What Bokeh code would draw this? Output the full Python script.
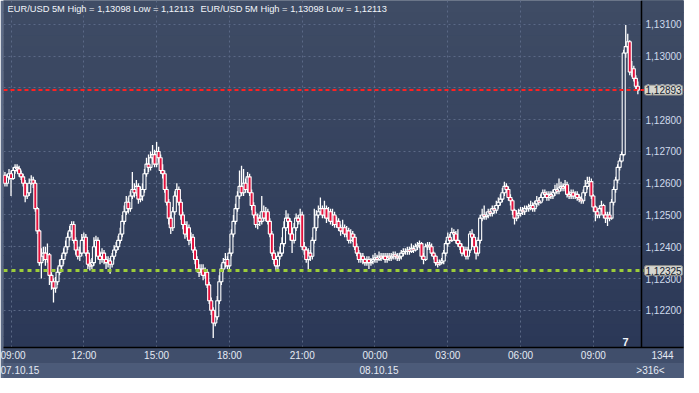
import numpy as np
import pandas as pd
from bokeh.plotting import figure
from bokeh.models import (ColumnDataSource, Range1d, LinearAxis, FixedTicker,
                          CustomJSTickFormatter, Grid, Span, Label, BoxAnnotation)
from bokeh.embed import file_html
from bokeh.resources import INLINE

# ---------------- data (prices in points, 1e-5) ----------------
start_time = "2015-10-07 08:35"
bar_minutes = 5

opens = [
    112600, 112610, 112625, 112600, 112620, 112630, 112615, 112640, 112650, 112645,
    112630, 112620, 112600, 112560, 112570, 112600, 112610, 112600, 112520, 112450,
    112350, 112370, 112380, 112360, 112375, 112310, 112290, 112270, 112290, 112320,
    112340, 112360, 112380, 112400, 112430, 112450, 112470, 112420, 112390, 112370,
    112380, 112420, 112430, 112380, 112345, 112340, 112350, 112400, 112420, 112370,
    112360, 112380, 112360, 112350, 112355, 112345, 112370, 112390, 112400, 112420,
    112440, 112480, 112510, 112540, 112520, 112560, 112580, 112570, 112590, 112550,
    112560, 112580, 112630, 112660, 112650, 112680, 112690, 112660, 112700, 112680,
    112640, 112630, 112580, 112540, 112490, 112460, 112510, 112560, 112580, 112540,
    112500, 112470, 112440, 112460, 112420, 112430, 112390, 112360, 112330, 112320,
    112330, 112310, 112320, 112280, 112230, 112200, 112160, 112180, 112230, 112290,
    112330, 112350, 112360, 112340, 112380, 112440, 112480, 112520, 112560, 112590,
    112570, 112600, 112580, 112620, 112570, 112530, 112500, 112470, 112490, 112480,
    112510, 112490, 112510, 112480, 112440, 112380, 112360, 112340, 112370, 112380,
    112410, 112460, 112490, 112480, 112440, 112420, 112460, 112490, 112480, 112500,
    112400, 112390, 112360, 112380, 112370, 112420, 112460, 112500, 112510, 112520,
    112500, 112520, 112490, 112510, 112480, 112500, 112470, 112480, 112460, 112450,
    112460, 112440, 112450, 112420, 112440, 112430, 112400, 112380, 112360, 112370,
    112360, 112350, 112360, 112350, 112355, 112360, 112365, 112360, 112370, 112365,
    112370, 112360, 112370, 112365, 112370, 112375, 112370, 112365, 112370, 112380,
    112385, 112385, 112390, 112385, 112395, 112390, 112400, 112405, 112410, 112370,
    112360, 112400, 112405, 112400, 112380, 112370, 112350, 112345, 112350, 112355,
    112380, 112410, 112430, 112420, 112445, 112440, 112420, 112410, 112400, 112380,
    112390, 112370, 112390, 112440, 112430, 112400, 112380, 112420, 112490, 112500,
    112495, 112500, 112510, 112505, 112520, 112515, 112530, 112540, 112550, 112570,
    112590, 112580, 112555, 112545, 112515, 112490, 112500, 112505, 112515, 112510,
    112520, 112520, 112525, 112530, 112520, 112535, 112545, 112540, 112555, 112570,
    112565, 112555, 112565, 112560, 112570, 112580, 112575, 112585, 112590, 112585,
    112595, 112565, 112560, 112570, 112560, 112565, 112555, 112550, 112545, 112570,
    112590, 112600, 112605, 112560, 112525, 112510, 112500, 112520, 112530, 112500,
    112490, 112500, 112490, 112540, 112580, 112610, 112650, 112670, 112690, 113010,
    113030, 113045, 112950, 112960, 112930, 112905,
]

highs = [
    112625, 112640, 112635, 112630, 112645, 112640, 112650, 112660, 112660, 112655,
    112640, 112630, 112610, 112590, 112615, 112625, 112620, 112610, 112525, 112455,
    112395, 112400, 112400, 112410, 112380, 112320, 112300, 112305, 112335, 112360,
    112375, 112395, 112420, 112445, 112465, 112480, 112480, 112430, 112400, 112400,
    112440, 112445, 112440, 112390, 112360, 112365, 112430, 112435, 112430, 112385,
    112395, 112390, 112370, 112370, 112365, 112380, 112405, 112415, 112435, 112460,
    112500, 112530, 112560, 112555, 112575, 112635, 112600, 112610, 112600, 112590,
    112600, 112645, 112680, 112690, 112700, 112720, 112705, 112730, 112715, 112690,
    112660, 112640, 112590, 112550, 112500, 112525, 112575, 112600, 112590, 112550,
    112510, 112480, 112480, 112470, 112445, 112440, 112400, 112370, 112345, 112345,
    112345, 112335, 112330, 112290, 112240, 112210, 112200, 112245, 112310, 112345,
    112365, 112380, 112370, 112395, 112455, 112500, 112535, 112575, 112640, 112655,
    112645, 112615, 112635, 112630, 112580, 112540, 112510, 112505, 112500, 112560,
    112530, 112525, 112520, 112490, 112450, 112390, 112370, 112385, 112400, 112430,
    112480, 112515, 112505, 112490, 112450, 112475, 112505, 112500, 112520, 112510,
    112415, 112400, 112395, 112390, 112430, 112520, 112515, 112530, 112555, 112530,
    112545, 112530, 112525, 112520, 112520, 112510, 112495, 112490, 112470, 112485,
    112470, 112465, 112460, 112455, 112450, 112440, 112410, 112390, 112380, 112380,
    112365, 112370, 112370, 112365, 112375, 112380, 112375, 112385, 112380, 112380,
    112380, 112380, 112380, 112380, 112385, 112385, 112380, 112380, 112390, 112395,
    112395, 112400, 112400, 112410, 112405, 112410, 112415, 112420, 112415, 112380,
    112410, 112415, 112415, 112410, 112385, 112375, 112360, 112360, 112365, 112390,
    112420, 112445, 112440, 112460, 112455, 112450, 112455, 112420, 112410, 112400,
    112400, 112400, 112450, 112455, 112440, 112410, 112430, 112500, 112520, 112530,
    112510, 112520, 112520, 112530, 112530, 112545, 112555, 112565, 112585, 112605,
    112600, 112590, 112565, 112550, 112520, 112515, 112520, 112525, 112525, 112530,
    112530, 112535, 112545, 112540, 112545, 112560, 112555, 112565, 112580, 112580,
    112575, 112575, 112575, 112580, 112595, 112600, 112615, 112605, 112600, 112610,
    112605, 112575, 112580, 112580, 112575, 112575, 112565, 112560, 112580, 112610,
    112620, 112620, 112615, 112565, 112530, 112520, 112530, 112545, 112535, 112510,
    112510, 112510, 112550, 112590, 112620, 112660, 112680, 112700, 113020, 113098,
    113070, 113050, 112985, 112970, 112940, 112920,
]

lows = [
    112590, 112600, 112590, 112590, 112610, 112560, 112610, 112630, 112635, 112620,
    112610, 112590, 112540, 112550, 112560, 112595, 112585, 112510, 112440, 112340,
    112300, 112355, 112340, 112350, 112280, 112265, 112225, 112255, 112280, 112310,
    112330, 112345, 112370, 112390, 112420, 112440, 112410, 112375, 112360, 112355,
    112370, 112410, 112370, 112330, 112325, 112330, 112340, 112390, 112360, 112345,
    112350, 112345, 112330, 112335, 112315, 112335, 112360, 112380, 112390, 112410,
    112430, 112470, 112500, 112505, 112510, 112550, 112555, 112560, 112535, 112540,
    112545, 112570, 112620, 112635, 112640, 112665, 112650, 112650, 112665, 112630,
    112615, 112570, 112530, 112470, 112440, 112450, 112500, 112550, 112530, 112485,
    112455, 112425, 112430, 112405, 112410, 112380, 112345, 112320, 112305, 112310,
    112295, 112300, 112270, 112220, 112185, 112113, 112150, 112170, 112220, 112280,
    112320, 112335, 112330, 112330, 112370, 112430, 112470, 112510, 112550, 112560,
    112560, 112570, 112570, 112560, 112515, 112490, 112460, 112455, 112465, 112470,
    112480, 112480, 112470, 112430, 112370, 112345, 112325, 112330, 112360, 112370,
    112400, 112450, 112465, 112420, 112380, 112410, 112450, 112470, 112470, 112390,
    112375, 112350, 112330, 112355, 112360, 112410, 112450, 112490, 112500, 112490,
    112490, 112475, 112480, 112470, 112465, 112460, 112460, 112450, 112435, 112440,
    112430, 112430, 112410, 112410, 112415, 112390, 112370, 112350, 112350, 112345,
    112340, 112340, 112330, 112340, 112345, 112350, 112350, 112355, 112355, 112360,
    112350, 112350, 112355, 112355, 112360, 112360, 112355, 112355, 112360, 112370,
    112375, 112375, 112375, 112380, 112380, 112385, 112390, 112395, 112360, 112345,
    112355, 112390, 112390, 112370, 112360, 112340, 112335, 112340, 112345, 112345,
    112370, 112400, 112410, 112415, 112430, 112410, 112400, 112390, 112370, 112375,
    112360, 112360, 112380, 112420, 112390, 112360, 112370, 112410, 112480, 112485,
    112485, 112490, 112495, 112495, 112505, 112505, 112520, 112530, 112540, 112560,
    112570, 112545, 112530, 112500, 112470, 112480, 112490, 112495, 112500, 112500,
    112510, 112510, 112515, 112510, 112510, 112525, 112530, 112535, 112545, 112555,
    112545, 112545, 112550, 112550, 112560, 112565, 112565, 112575, 112575, 112575,
    112555, 112550, 112550, 112550, 112550, 112545, 112540, 112535, 112535, 112560,
    112580, 112590, 112550, 112510, 112480, 112490, 112490, 112510, 112490, 112475,
    112465, 112480, 112485, 112530, 112570, 112600, 112640, 112665, 112685, 112995,
    113010, 112940, 112935, 112920, 112895, 112880,
]

closes = [
    112610, 112625, 112600, 112620, 112630, 112615, 112640, 112650, 112645, 112630,
    112620, 112600, 112560, 112570, 112600, 112610, 112600, 112520, 112450, 112350,
    112370, 112380, 112360, 112375, 112310, 112290, 112270, 112290, 112320, 112340,
    112360, 112380, 112400, 112430, 112450, 112470, 112420, 112390, 112370, 112380,
    112420, 112430, 112380, 112345, 112340, 112350, 112400, 112420, 112370, 112360,
    112380, 112360, 112350, 112355, 112345, 112370, 112390, 112400, 112420, 112440,
    112480, 112510, 112540, 112520, 112560, 112580, 112570, 112590, 112550, 112560,
    112580, 112630, 112660, 112650, 112680, 112690, 112660, 112700, 112680, 112640,
    112630, 112580, 112540, 112490, 112460, 112510, 112560, 112580, 112540, 112500,
    112470, 112440, 112460, 112420, 112430, 112390, 112360, 112330, 112320, 112330,
    112310, 112320, 112280, 112230, 112200, 112160, 112180, 112230, 112290, 112330,
    112350, 112360, 112340, 112380, 112440, 112480, 112520, 112560, 112590, 112570,
    112600, 112580, 112620, 112570, 112530, 112500, 112470, 112490, 112480, 112510,
    112490, 112510, 112480, 112440, 112380, 112360, 112340, 112370, 112380, 112410,
    112460, 112490, 112480, 112440, 112420, 112460, 112490, 112480, 112500, 112400,
    112390, 112360, 112380, 112370, 112420, 112460, 112500, 112510, 112520, 112500,
    112520, 112490, 112510, 112480, 112500, 112470, 112480, 112460, 112450, 112460,
    112440, 112450, 112420, 112440, 112430, 112400, 112380, 112360, 112370, 112360,
    112350, 112360, 112350, 112355, 112360, 112365, 112360, 112370, 112365, 112370,
    112360, 112370, 112365, 112370, 112375, 112370, 112365, 112370, 112380, 112385,
    112385, 112390, 112385, 112395, 112390, 112400, 112405, 112410, 112370, 112360,
    112400, 112405, 112400, 112380, 112370, 112350, 112345, 112350, 112355, 112380,
    112410, 112430, 112420, 112445, 112440, 112420, 112410, 112400, 112380, 112390,
    112370, 112390, 112440, 112430, 112400, 112380, 112420, 112490, 112500, 112495,
    112500, 112510, 112505, 112520, 112515, 112530, 112540, 112550, 112570, 112590,
    112580, 112555, 112545, 112515, 112490, 112500, 112505, 112515, 112510, 112520,
    112520, 112525, 112530, 112520, 112535, 112545, 112540, 112555, 112570, 112565,
    112555, 112565, 112560, 112570, 112580, 112575, 112585, 112590, 112585, 112595,
    112565, 112560, 112570, 112560, 112565, 112555, 112550, 112545, 112570, 112590,
    112600, 112605, 112560, 112525, 112510, 112500, 112520, 112530, 112500, 112490,
    112500, 112490, 112540, 112580, 112610, 112650, 112670, 112690, 113010, 113030,
    113045, 112950, 112960, 112930, 112905, 112893,
]

y_ticks = [1.122, 1.123, 1.124, 1.125, 1.126, 1.127, 1.128, 1.129, 1.130, 1.131]
x_tick_times = ["2015-10-07 09:00", "2015-10-07 12:00", "2015-10-07 15:00",
                "2015-10-07 18:00", "2015-10-07 21:00", "2015-10-08 00:00",
                "2015-10-08 03:00", "2015-10-08 06:00", "2015-10-08 09:00"]
date_tick_times = ["2015-10-07 08:55", "2015-10-08 00:10"]
view_start, axis_time = "2015-10-07 08:41:24", "2015-10-08 10:59"
y_low, y_high = 1.12083, 1.13175
last_price = 1.12893
level_price = 1.12325
title_text = "EUR/USD 5M High = 1,13098 Low = 1,12113"
bars_total = "1344"
bars_visible = ">316<"
corner_mark = "7"


def ms(s):
    return pd.Timestamp(s).value // 10**6


# ---------------- layout constants ----------------
FW_DATA = 638          # px of frame holding the price data (left of the price axis line)
FW = 680               # full frame width (includes the price-label column)
FH = 347
FONT = "Liberation Sans"

times = pd.date_range(start_time, periods=len(closes), freq=f"{bar_minutes}min")
t = times.asi8 // 10**6
o = np.array(opens) / 1e5
h = np.array(highs) / 1e5
l = np.array(lows) / 1e5
c = np.array(closes) / 1e5
top = np.maximum(o, c)
bot = np.minimum(o, c)
inc = c >= o
dec = ~inc

xs, xa = ms(view_start), ms(axis_time)
dxp = (xa - xs) / FW_DATA
xe = xs + dxp * FW
dyp = (y_high - y_low) / FH

p = figure(frame_width=FW, frame_height=FH, output_backend="svg", toolbar_location=None,
           x_range=Range1d(xs, xe), y_range=Range1d(y_low, y_high),
           x_axis_type=None, y_axis_type=None,
           min_border_left=3, min_border_right=0, min_border_top=0, min_border_bottom=30,
           background_fill_color="#34425f", border_fill_color="#5d6b86")
p.outline_line_color = None

# gradient background
top_rgb = np.array([63, 76, 101])
bot_rgb = np.array([43, 56, 87])
nb = 30
band_cols = []
for k in range(nb):
    f = (k + 0.5) / nb
    col = tuple(int(v) for v in np.round(top_rgb + (bot_rgb - top_rgb) * f))
    band_cols.append("#%02x%02x%02x" % col)


def add_bands(left, right, level):
    for k in range(nb):
        b_top = y_high + (2 * dyp if k == 0 else 0) - (y_high - y_low) * k / nb
        b_bot = y_high - (y_high - y_low) * (k + 1) / nb - (0.6 * dyp if k < nb - 1 else 2 * dyp)
        p.add_layout(BoxAnnotation(left=left, right=right, top=b_top, bottom=b_bot,
                                   fill_color=band_cols[k], fill_alpha=1,
                                   line_alpha=0, level=level))


add_bands(xs - 4 * dxp, xe + 4 * dxp, "image")

# grids
xticker = FixedTicker(ticks=[ms(s) for s in x_tick_times])
yticker = FixedTicker(ticks=y_ticks)
for dim, tk in ((0, xticker), (1, yticker)):
    p.add_layout(Grid(dimension=dim, ticker=tk, grid_line_color="#5b6986",
                      grid_line_dash="2 3", grid_line_width=1), "center")

# price-label column background (covers grid lines there)
add_bands(xa, xe + 4 * dxp, "underlay")

# axes
corner_x = xa + 21 * dxp
corner_x2 = xa + 9 * dxp
yax = LinearAxis(ticker=yticker,
                 formatter=CustomJSTickFormatter(code="return tick.toFixed(5).replace('.', ',');"))
xax = LinearAxis(ticker=FixedTicker(ticks=[ms(s) for s in x_tick_times] + [corner_x]),
                 formatter=CustomJSTickFormatter(args=dict(cx=corner_x, txt=bars_total), code="""
if (Math.abs(tick - cx) < 1000) { return txt; }
const d = new Date(tick);
return String(d.getUTCHours()).padStart(2,'0') + ':' + String(d.getUTCMinutes()).padStart(2,'0');"""))
dax = LinearAxis(ticker=FixedTicker(ticks=[ms(s) for s in date_tick_times] + [corner_x2]),
                 formatter=CustomJSTickFormatter(args=dict(cx=corner_x2, txt=bars_visible), code="""
if (Math.abs(tick - cx) < 1000) { return txt; }
const d = new Date(tick);
return String(d.getUTCDate()).padStart(2,'0') + '.' + String(d.getUTCMonth()+1).padStart(2,'0') + '.' + String(d.getUTCFullYear()).slice(2);"""))
for ax in (yax, xax, dax):
    ax.major_tick_line_color = None
    ax.minor_tick_line_color = None
    ax.major_tick_out = 0
    ax.major_tick_in = 0
    ax.minor_tick_out = 0
    ax.minor_tick_in = 0
    ax.major_label_text_font = FONT
    ax.major_label_text_font_size = "10px"
yax.axis_line_color = None
yax.major_label_text_color = "#cfdaec"
yax.major_label_standoff = -(FW - FW_DATA) + 4
xax.axis_line_color = "black"
xax.axis_line_width = 1.5
xax.major_label_text_color = "#e4eaf4"
xax.major_label_standoff = 2
xax.background_fill_color = "#404e6b"
dax.axis_line_color = None
dax.major_label_text_color = "#e4eaf4"
dax.major_label_text_align = "left"
dax.major_label_standoff = 1
dax.background_fill_color = "#4c5b79"
p.add_layout(yax, "right")
p.add_layout(xax, "below")
p.add_layout(dax, "below")

# price axis line
p.add_layout(Span(location=xa, dimension="height", line_color="black", line_width=1.5))

# candles
all_src = ColumnDataSource(dict(t=t, h=h, l=l))
inc_src = ColumnDataSource(dict(t=t[inc], top=top[inc], bot=bot[inc]))
dec_src = ColumnDataSource(dict(t=t[dec], top=top[dec], bot=bot[dec]))
bw = 1.5 * bar_minutes * 60 * 1000
p.segment(x0="t", y0="l", x1="t", y1="h", source=all_src, line_color="white", line_width=1.3)
p.vbar(x="t", width=bw, top="top", bottom="bot", source=inc_src,
       fill_color="#34425f", line_color="white", line_width=1.1)
p.vbar(x="t", width=bw, top="top", bottom="bot", source=dec_src,
       fill_color="#e3103c", line_color="white", line_width=1.1)

# level lines
p.add_layout(Span(location=last_price, dimension="width", line_color="#ff2020",
                  line_dash="4 3", line_width=2))
p.add_layout(Span(location=level_price, dimension="width", line_color="#9ccc3a",
                  line_dash="4 4", line_width=3))


def fmt(v):
    return f"{v:.5f}".replace(".", ",")


for v in (last_price, level_price):
    p.add_layout(Label(x=xa, y=v, text=fmt(v), x_offset=3, text_align="left",
                       text_baseline="middle", text_font=FONT, text_font_size="10px",
                       text_color="#13202f", background_fill_color="#d6d6cf",
                       border_line_color="#8c8c88", padding=1, border_radius=2))

# titles
for off in (4, 197):
    p.add_layout(Label(x=xs, y=y_high, text=title_text, x_offset=off, y_offset=-3,
                       text_baseline="top", text_align="left", text_font=FONT,
                       text_font_size="9.3px", text_color="#f2f5fa"))

p.add_layout(Label(x=xa, y=y_low, text=corner_mark, x_offset=-16, y_offset=2,
                   text_baseline="bottom", text_align="center", text_font=FONT,
                   text_font_size="11px", text_font_style="bold", text_color="#f2f5fa"))

open("out.html", "w").write(file_html(p, INLINE))
